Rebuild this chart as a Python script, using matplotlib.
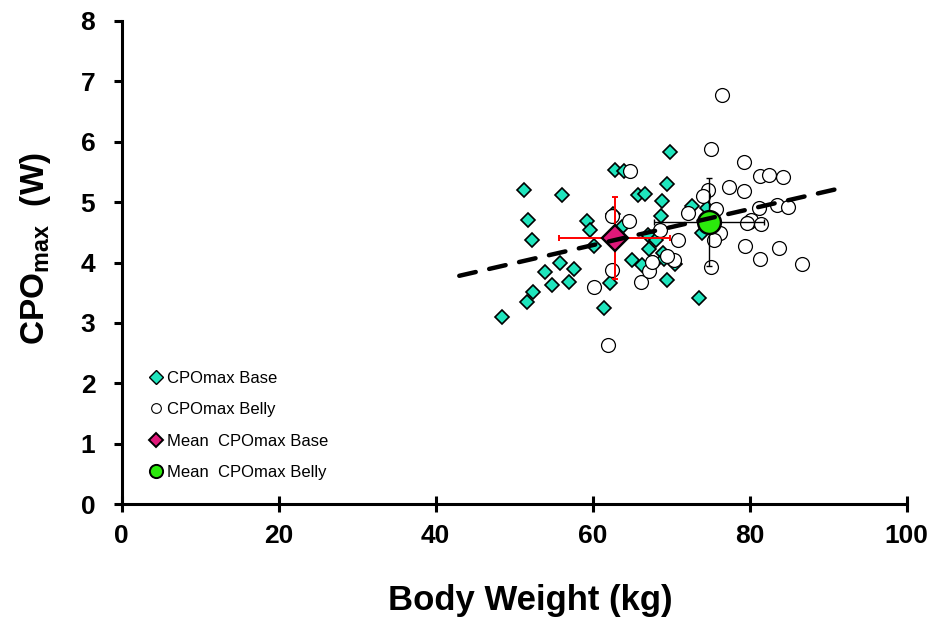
import numpy as np
import matplotlib
matplotlib.use("Agg")
import matplotlib.pyplot as plt
from matplotlib.lines import Line2D

plt.rcParams['font.family'] = ['Liberation Sans', 'DejaVu Sans']
plt.rcParams['mathtext.fontset'] = 'custom'
plt.rcParams['mathtext.rm'] = 'Liberation Sans'
plt.rcParams['mathtext.bf'] = 'Liberation Sans:bold'

# CPOmax at the base, per subject (kg, W)
base_weight = [51.2, 56.1, 51.8, 52.3, 59.3, 59.7, 60.2, 62.9, 64.0, 62.6,
               63.7, 55.8, 53.9, 57.6, 54.8, 57.0, 52.4, 51.6, 48.4, 61.4,
               62.2, 65.0, 65.8, 69.9, 69.4, 66.7, 68.8, 68.7, 72.6, 74.5,
               73.9, 67.1, 68.1, 67.2, 66.3, 67.8, 69.0, 69.1, 70.5, 69.4,
               73.5]
base_cpo = [5.20, 5.11, 4.71, 4.38, 4.69, 4.53, 4.28, 5.53, 5.52, 4.80,
            4.58, 3.99, 3.84, 3.90, 3.62, 3.68, 3.51, 3.35, 3.10, 3.25,
            3.66, 4.04, 5.11, 5.83, 5.30, 5.13, 5.01, 4.77, 4.93, 4.90,
            4.49, 4.45, 4.37, 4.22, 3.96, 4.00, 4.15, 4.05, 3.97, 3.71,
            3.42]

# CPOmax at the belly
belly_weight = [64.8, 62.5, 64.6, 62.4, 60.1, 66.2, 61.9, 76.5, 75.1, 79.3,
                81.3, 82.5, 84.3, 79.3, 77.4, 74.7, 74.1, 75.7, 72.2, 68.6,
                70.9, 76.2, 75.4, 81.2, 83.5, 84.9, 79.9, 80.1, 79.6, 81.4,
                79.4, 81.3, 83.7, 86.7, 75.1, 67.2, 70.3, 69.4, 67.6]
belly_cpo = [5.52, 4.77, 4.69, 3.88, 3.59, 3.68, 2.63, 6.77, 5.88, 5.67,
             5.43, 5.45, 5.41, 5.19, 5.25, 5.20, 5.10, 4.88, 4.82, 4.53,
             4.38, 4.49, 4.38, 4.90, 4.95, 4.92, 4.67, 4.70, 4.65, 4.63,
             4.28, 4.06, 4.24, 3.98, 3.93, 3.86, 4.04, 4.10, 4.01]

# group means with SD
mean_base = (62.8, 4.40)
sd_base = (7.1, 0.68)
mean_belly = (74.8, 4.67)
sd_belly = (7.0, 0.72)

# linear trend end points
trend_x = [43.0, 91.6]
trend_y = [3.78, 5.23]

turq = '#1FE5BD'
pink = '#E0197A'
green = '#2BEA0C'

fig = plt.figure(figsize=(9.37, 6.28), dpi=100)
ax = fig.add_axes([0.1299, 0.197, 0.8378, 0.770])

ax.plot(base_weight, base_cpo, 'D', ms=7.6, mfc=turq, mec='black', mew=1.2,
        ls='none', zorder=3)
ax.plot(belly_weight, belly_cpo, 'o', ms=10, mfc='white', mec='black',
        mew=0.9, ls='none', zorder=3)

ax.errorbar(mean_base[0], mean_base[1], xerr=sd_base[0], yerr=sd_base[1],
            fmt='none', ecolor='red', elinewidth=1.4, capsize=2.3,
            capthick=1.4, zorder=4)
ax.errorbar(mean_belly[0], mean_belly[1], xerr=sd_belly[0], yerr=sd_belly[1],
            fmt='none', ecolor='black', elinewidth=1.0, capsize=2.3,
            capthick=1.0, zorder=4)
ax.plot(*mean_base, 'D', ms=13, mfc=pink, mec='black', mew=1.7, zorder=5)
ax.plot(*mean_belly, 'o', ms=16.5, mfc=green, mec='black', mew=1.7, zorder=5)

ax.plot(trend_x, trend_y, color='black', lw=3.2, ls=(0, (3.8, 3.1)),
        dash_capstyle='round', zorder=6)

ax.set_xlim(0, 100)
ax.set_ylim(0, 8)
ax.set_xticks(np.arange(0, 101, 20))
ax.set_yticks(np.arange(0, 9, 1))
for s in ['top', 'right']:
    ax.spines[s].set_visible(False)
for s in ['left', 'bottom']:
    ax.spines[s].set_linewidth(2.2)
ax.tick_params(axis='y', direction='out', length=6, width=2.2, pad=13,
               labelsize=19)
ax.tick_params(axis='x', direction='inout', length=12, width=2.2, pad=8,
               labelsize=19)
for lab in ax.get_xticklabels() + ax.get_yticklabels():
    lab.set_fontweight('bold')

ax.set_xlabel('Body Weight (kg)', fontsize=25, fontweight='bold')
ax.xaxis.set_label_coords(0.521, -0.198)
ax.xaxis.label.set_va('center')
ax.set_ylabel(r'CPO$_{\mathbf{max}}$  (W)', fontsize=24, fontweight='bold')
ax.yaxis.set_label_coords(-0.110, 0.528)
ax.yaxis.label.set_va('center')

handles = [
    Line2D([], [], marker='D', ls='none', ms=7, mfc=turq, mec='black', mew=1.0),
    Line2D([], [], marker='o', ls='none', ms=7, mfc='white', mec='black', mew=0.8),
    Line2D([], [], marker='D', ls='none', ms=7, mfc=pink, mec='black', mew=1.4),
    Line2D([], [], marker='o', ls='none', ms=9.5, mfc=green, mec='black', mew=1.4),
]
labels = ['CPOmax Base', 'CPOmax Belly', 'Mean  CPOmax Base', 'Mean  CPOmax Belly']
ax.legend(handles, labels, loc='upper left', bbox_to_anchor=(0.02, 0.30),
          frameon=False, fontsize=12, handlelength=0.8, handletextpad=0.3,
          labelspacing=0.98, borderpad=0.2)

fig.savefig('out.png', dpi=100)
